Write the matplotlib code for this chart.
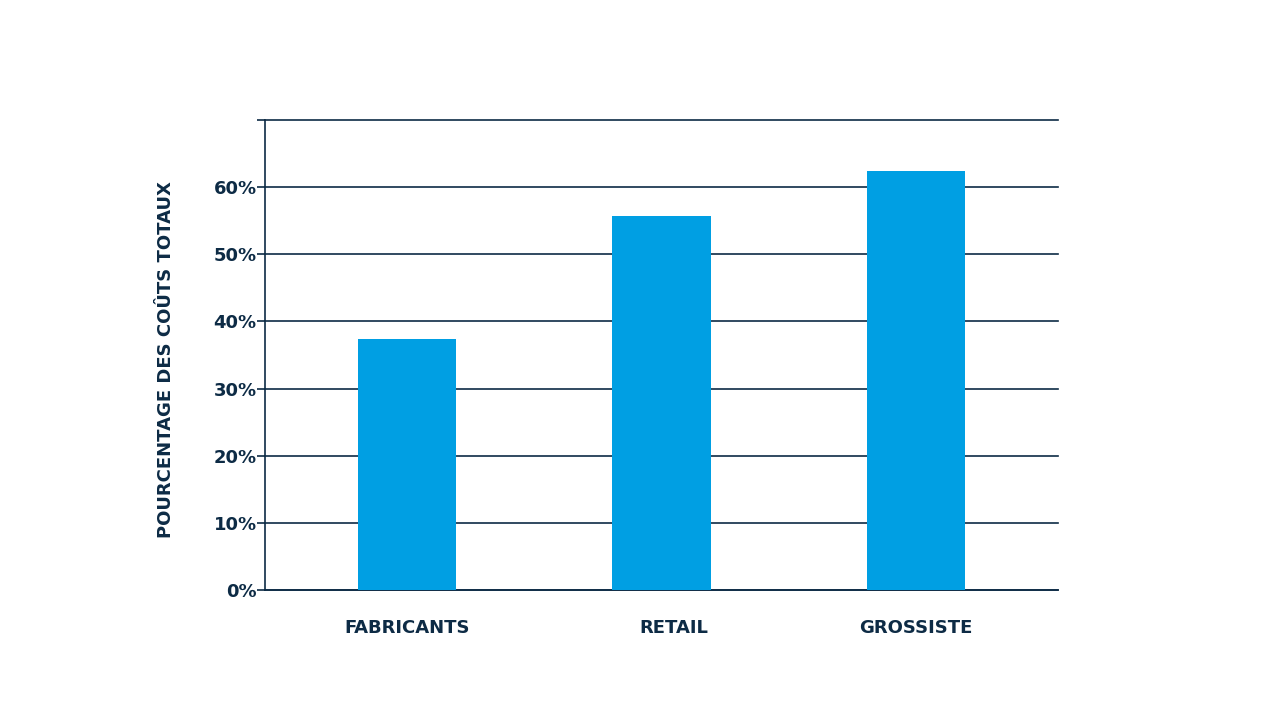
import matplotlib.pyplot as plt
from matplotlib.ticker import FuncFormatter
from matplotlib.transforms import ScaledTranslation

# donnees
categories = ["FABRICANTS", "RETAIL", "GROSSISTE"]
valeurs = [37.4, 55.7, 62.4]
yticks = [0, 10, 20, 30, 40, 50, 60, 70]

navy = "#0d2b45"
bleu = "#009fe3"

plt.rcParams['font.family'] = ['DejaVu Sans']
fig = plt.figure(figsize=(12.8, 7.2), dpi=100)
ax = fig.add_axes([0.207, 0.1806, 0.6196, 0.6527])

x = range(len(categories))
ax.bar(x, valeurs, width=0.386, color=bleu, zorder=3)

ax.set_xlim(-0.56, 2.56)
ax.set_ylim(0, 70)
ax.set_yticks(yticks)
ax.yaxis.set_major_formatter(FuncFormatter(lambda v, p: "" if v == 70 else f"{v:.0f}%"))
ax.set_xticks(list(x))
ax.set_xticklabels(categories)

ax.grid(axis="y", color=navy, linewidth=1.2, zorder=1)
for gl in ax.get_ygridlines():
    gl.set_clip_on(False)
for s in ["top", "right"]:
    ax.spines[s].set_visible(False)
ax.spines["left"].set_color(navy)
ax.spines["bottom"].set_color(navy)
ax.spines["left"].set_linewidth(1.2)
ax.spines["bottom"].set_linewidth(1.2)

ax.tick_params(axis="y", length=6, width=1.2, color=navy, pad=0,
               labelsize=13, labelcolor=navy)
ax.tick_params(axis="x", length=0, pad=21, labelsize=13, labelcolor=navy)
for lab in ax.get_xticklabels() + ax.get_yticklabels():
    lab.set_fontweight("bold")

# le libelle RETAIL est un peu decale a droite dans l'original
lab = ax.get_xticklabels()[1]
lab.set_transform(lab.get_transform() + ScaledTranslation(12 / 100, 0, fig.dpi_scale_trans))

ax.set_ylabel("POURCENTAGE DES COÛTS TOTAUX", fontsize=13, fontweight="bold",
              color=navy)
ax.yaxis.set_label_coords(-0.113, 0.49)

fig.savefig("out.png", dpi=100)
